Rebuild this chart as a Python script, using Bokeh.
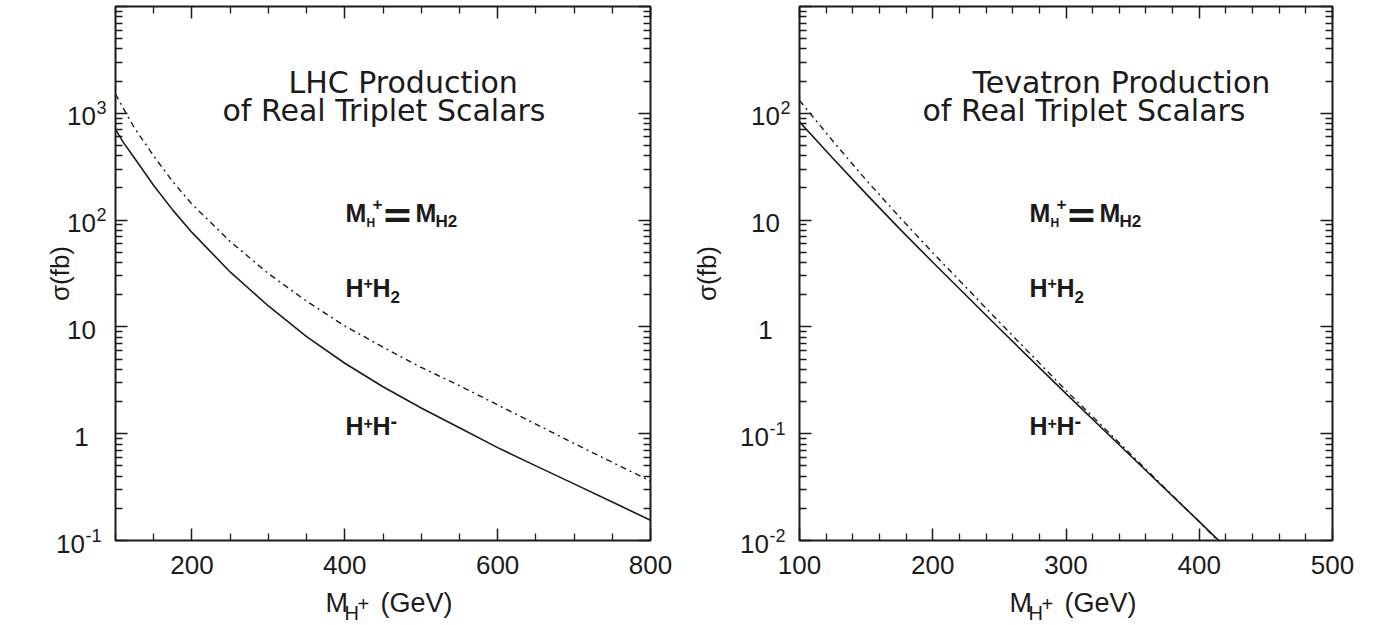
from math import log10, pi

from bokeh.embed import file_html
from bokeh.layouts import column, row
from bokeh.models import FixedTicker, Label, LinearAxis, LogAxis, Range1d
from bokeh.plotting import figure
from bokeh.resources import INLINE

# ---- cross sections (fb) vs charged triplet mass (GeV) ----
# LHC
lhc_mass = [100, 110, 125, 150, 175, 200, 250, 300, 350, 400, 450, 500, 550, 600, 650, 700, 750, 800]
lhc_hphm = [708, 537, 380, 211, 124, 76.7, 32.7, 15.7, 8.1, 4.57, 2.75, 1.74, 1.135, 0.741, 0.50, 0.339, 0.229, 0.155]
lhc_hph2 = [1514, 1120, 724, 398, 229, 141, 63.1, 31.6, 17.4, 10.2, 6.46, 4.17, 2.82, 1.86, 1.23, 0.81, 0.54, 0.36]

# Tevatron
tev_mass = [100, 125, 150, 175, 200, 250, 300, 350, 400, 420]
tev_hphm = [83.2, 38.0, 17.6, 8.32, 4.03, 0.966, 0.237, 0.0596, 0.0150, 0.00861]
tev_hph2 = [132, 55.0, 23.7, 10.7, 4.95, 1.11, 0.254, 0.0617, 0.0150, 0.00832]

# ---- axes ----
lhc_xticks = [200, 400, 600, 800]
lhc_xminor = [100, 150, 250, 300, 350, 450, 500, 550, 650, 700, 750]
tev_xticks = [100, 200, 300, 400, 500]
tev_xminor = [120, 140, 160, 180, 220, 240, 260, 280, 320, 340, 360, 380, 420, 440, 460, 480]
lhc_yticks = [0.1, 1, 10, 100, 1000]
tev_yticks = [0.01, 0.1, 1, 10, 100]

lhc_title = ["LHC Production", "of Real Triplet Scalars"]
tev_title = ["Tevatron Production", "of Real Triplet Scalars"]

INK = "#1c1a1b"
PANEL_W, PAGE_H = 690, 625
FRAME_TOP, FRAME_H = 6, 534
GAP = 3                      # border between y-label strip and plot frame
TICK_FONT = "Liberation Sans"
TITLE_FONT = "DejaVu Sans"


def decade_minors(lo, hi):
    out = []
    for n in range(lo, hi):
        out += [k * 10.0 ** n for k in range(2, 10)]
    return out


def bare(w, h, xr, yr, ylog=False):
    """A borderless canvas whose frame fills it, used to hold text."""
    f = figure(width=w, height=h, x_range=xr, y_range=yr,
               y_axis_type="log" if ylog else "linear",
               x_axis_location=None, y_axis_location=None,
               output_backend="svg", toolbar_location=None, min_border=0)
    f.grid.visible = False
    f.outline_line_color = None
    f.background_fill_color = "white"
    f.border_fill_color = "white"
    return f


def text(f, x, y, s, size, font=TICK_FONT, bold=False, align="left",
         angle=0.0, dx=0, dy=0):
    # anchored at the vertical middle of the glyphs
    f.add_layout(Label(
        x=x, y=y, text=s, text_font=font, text_font_size=f"{size}px",
        text_font_style="bold" if bold else "normal", text_color=INK,
        text_align=align, text_baseline="middle", angle=angle,
        x_offset=dx, y_offset=dy,
    ))


def make_panel(g, mass, solid, dashed, xticks, xminor, yticks, title, dx_title):
    strip_w = g["left"] - GAP
    main_w = PANEL_W - strip_w
    gap_b = g["gap_b"]
    main_h = FRAME_TOP + FRAME_H + gap_b
    full = g["full_strip"]
    kx = (g["x1"] - g["x0"]) / g["fw"]          # GeV per pixel
    kd = (g["yhi"] - g["ylo"]) / FRAME_H          # decades per pixel

    # ---------- plot frame with curves ----------
    p = figure(
        width=main_w, height=main_h,
        x_range=Range1d(g["x0"], g["x1"]),
        y_range=Range1d(10.0 ** g["ylo"], 10.0 ** g["yhi"]),
        y_axis_type="log", output_backend="svg", toolbar_location=None,
        min_border_left=GAP, min_border_right=main_w - GAP - g["fw"],
        min_border_top=FRAME_TOP, min_border_bottom=gap_b,
    )
    p.grid.visible = False
    p.outline_line_color = INK
    p.outline_line_width = 2
    p.background_fill_color = "white"
    p.border_fill_color = "white"

    xt = FixedTicker(ticks=xticks, minor_ticks=xminor)
    all_y = [10.0 ** n for n in range(g["ylo"], g["yhi"] + 1)]
    yt = FixedTicker(ticks=all_y, minor_ticks=decade_minors(g["ylo"], g["yhi"]))

    def style(ax):
        ax.axis_line_color = None
        ax.major_tick_in = 12
        ax.major_tick_out = 0
        ax.minor_tick_in = 7
        ax.minor_tick_out = 0
        ax.major_tick_line_color = INK
        ax.minor_tick_line_color = INK
        ax.major_tick_line_width = 1.5
        ax.minor_tick_line_width = 1.3
        ax.major_label_text_color = None
        ax.major_label_text_font_size = "0px"
        ax.major_label_standoff = 0

    p.xaxis[0].ticker = xt
    style(p.xaxis[0])
    p.yaxis[0].ticker = yt
    style(p.yaxis[0])
    top = LinearAxis(ticker=xt)
    style(top)
    p.add_layout(top, "above")
    right = LogAxis(ticker=yt)
    style(right)
    p.add_layout(right, "right")

    p.line(mass, solid, line_color=INK, line_width=1.6)
    p.line(mass, dashed, line_color=INK, line_width=1.4, line_dash="6 4 2 4")

    # in-frame text, placed by pixel offset from the frame's left edge and page top
    def inner(px, py, s, size, **kw):
        x = g["x0"] + px * kx
        y = 10.0 ** (g["yhi"] - (py - FRAME_TOP) * kd)
        text(p, x, y, s, size, **kw)

    inner(dx_title[0], 82, title[0], 30, font=TITLE_FONT)
    inner(dx_title[1], 110, title[1], 30, font=TITLE_FONT)

    a = 230
    inner(a, 212.5, "M", 25, bold=True)
    inner(a + 21, 222.5, "H", 12, bold=True)
    inner(a + 27, 203, "+", 17, bold=True)
    inner(a + 36, 213.5, "=", 38, font="DejaVu Sans", bold=True)
    inner(a + 70, 212.5, "M", 25, bold=True)
    inner(a + 90, 221, "H2", 17, bold=True)

    inner(a, 287.5, "H", 25, bold=True)
    inner(a + 18, 282, "+", 16, bold=True)
    inner(a + 27, 287.5, "H", 25, bold=True)
    inner(a + 45, 296, "2", 17, bold=True)

    inner(a, 425.5, "H", 25, bold=True)
    inner(a + 18, 422, "+", 16, bold=True)
    inner(a + 27, 425.5, "H", 25, bold=True)
    inner(a + 45, 420.5, "-", 20, bold=True)

    # ---------- left strip: y tick labels and y title ----------
    sh = PAGE_H if full else main_h
    s = bare(strip_w, sh,
             Range1d(0, strip_w),
             Range1d(10.0 ** (g["ylo"] - (sh - FRAME_TOP - FRAME_H) * kd),
                     10.0 ** (g["yhi"] + FRAME_TOP * kd)),
             ylog=True)
    for v in yticks:
        n = round(log10(v))
        base = "1" if n == 0 else "10"
        exp = "" if n in (0, 1) else str(n)
        cx = strip_w + GAP - (45 if n < 0 else 34)
        text(s, cx, v, base, 26, align="center", dy=-3)
        if exp:
            bw = len(base) * 0.556 * 26
            text(s, cx + bw / 2 + 0.5, v, exp, 18, dy=5.5)
    ymid = 10.0 ** ((g["ylo"] + g["yhi"]) / 2)
    text(s, g["ytitle_x"], ymid, "\u03c3(fb)", 26, align="center", angle=pi / 2)

    # ---------- bottom strip: x tick labels and x title ----------
    bh = PAGE_H - main_h
    bw_ = main_w if full else PANEL_W
    lead = GAP if full else g["left"]            # pixels from strip left edge to frame
    b = bare(bw_, bh,
             Range1d(g["x0"] - lead * kx, g["x0"] + (bw_ - lead) * kx),
             Range1d(bh, 0))
    for t in xticks:
        text(b, t, 564 - main_h, str(t), 26, align="center")
    mx = g["x0"] + 210 * kx
    text(b, mx, 602 - main_h, "M", 27)
    text(b, mx + 19 * kx, 612.5 - main_h, "H", 20)
    text(b, mx + 32 * kx, 603 - main_h, "+", 20)
    text(b, mx + 55 * kx, 602 - main_h, "(GeV)", 27)

    # each canvas sits in its own container so the layout does not line up
    # the frames of neighbouring canvases
    if full:
        return row(column(s), column(row(p), row(b)))
    return column(row(column(s), column(p)), row(b))


lhc_geom = dict(left=115, fw=535, x0=100, x1=800, ylo=-1, yhi=4, ytitle_x=59,
                gap_b=9, full_strip=True)
tev_geom = dict(left=109, fw=533, x0=100, x1=500, ylo=-2, yhi=3, ytitle_x=16,
                gap_b=13, full_strip=False)

left_panel = make_panel(lhc_geom, lhc_mass, lhc_hphm, lhc_hph2, lhc_xticks, lhc_xminor,
                        lhc_yticks, lhc_title, (173, 107))
right_panel = make_panel(tev_geom, tev_mass, tev_hphm, tev_hph2, tev_xticks, tev_xminor,
                         tev_yticks, tev_title, (173, 123))

layout = row(left_panel, right_panel)
open("out.html", "w").write(file_html(layout, INLINE))
